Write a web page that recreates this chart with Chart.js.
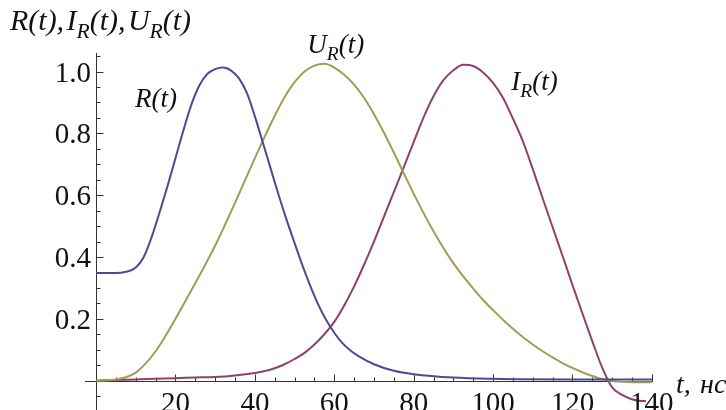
<!DOCTYPE html>
<html>
<head>
<meta charset="utf-8">
<script src="https://cdn.jsdelivr.net/npm/chart.js@4/dist/chart.umd.min.js"></script>
<style>
    html, body { margin: 0; padding: 0; background: #fff; }
    #wrap { width: 726px; height: 410px; position: relative; overflow: hidden; }
</style>
</head>
<body>
<div id="wrap"><canvas id="chart" width="726" height="410"></canvas></div>
<script>
// R(t) - blue
const rT = [0, 2.5, 5, 7.5, 10, 12, 14, 16, 18, 20, 22, 24, 26, 28, 30, 32, 34, 36, 38, 40, 42, 44, 46, 48, 50, 52, 54, 56, 58, 60, 62, 64, 66, 70, 75, 80, 90, 100, 120, 140];
const rValues = [0.348, 0.348, 0.348, 0.352, 0.366, 0.400, 0.465, 0.545, 0.630, 0.720, 0.810, 0.893, 0.955, 0.992, 1.008, 1.013, 1.003, 0.978, 0.930, 0.855, 0.770, 0.685, 0.600, 0.520, 0.445, 0.372, 0.305, 0.245, 0.195, 0.155, 0.122, 0.098, 0.080, 0.053, 0.032, 0.021, 0.010, 0.006, 0.004, 0.004];

// U_R(t) - olive
const uT = [0, 2.5, 5, 7.5, 10, 12.5, 15, 17.5, 20, 22.5, 25, 27.5, 30, 32.5, 35, 37.5, 40, 42.5, 45, 47.5, 50, 52.5, 55, 57.5, 60, 62.5, 65, 67.5, 70, 72.5, 75, 77.5, 80, 82.5, 85, 87.5, 90, 92.5, 95, 97.5, 100, 102.5, 105, 107.5, 110, 112.5, 115, 117.5, 120, 122.5, 125, 127.5, 130, 132.5, 135, 140];
const uValues = [0, 0.001, 0.004, 0.011, 0.026, 0.056, 0.095, 0.145, 0.200, 0.258, 0.316, 0.375, 0.437, 0.505, 0.575, 0.648, 0.720, 0.790, 0.857, 0.918, 0.966, 1.000, 1.019, 1.025, 1.013, 0.990, 0.958, 0.915, 0.862, 0.803, 0.738, 0.671, 0.605, 0.542, 0.483, 0.429, 0.380, 0.337, 0.298, 0.261, 0.228, 0.197, 0.168, 0.141, 0.117, 0.095, 0.075, 0.057, 0.041, 0.027, 0.015, 0.005, -0.001, -0.004, -0.005, -0.005];

// I_R(t) - magenta
const iT = [0, 5, 10, 15, 20, 25, 30, 35, 40, 42.5, 45, 47.5, 50, 52.5, 55, 57.5, 60, 62.5, 65, 67.5, 70, 72.5, 75, 77.5, 80, 82.5, 85, 87.5, 90, 92.5, 95, 97.5, 100, 102.5, 105, 107.5, 110, 112.5, 115, 117.5, 120, 122.5, 125, 127.5, 130, 132.5, 135, 137.5, 138.5];
const iValues = [0, 0.002, 0.004, 0.006, 0.008, 0.010, 0.012, 0.017, 0.025, 0.031, 0.040, 0.053, 0.070, 0.090, 0.117, 0.150, 0.190, 0.243, 0.305, 0.375, 0.450, 0.530, 0.610, 0.690, 0.772, 0.852, 0.920, 0.972, 1.004, 1.022, 1.018, 0.997, 0.963, 0.915, 0.848, 0.775, 0.685, 0.590, 0.497, 0.404, 0.310, 0.218, 0.128, 0.042, -0.022, -0.046, -0.060, -0.066, -0.066];

const xTickValues = [20, 40, 60, 80, 100, 120, 140];
const xTickLabels = ["20", "40", "60", "80", "100", "120", "140"];
const yTickValues = [0.2, 0.4, 0.6, 0.8, 1.0];
const yTickLabels = ["0.2", "0.4", "0.6", "0.8", "1.0"];

// text labels: [text, t, value]   ("_X" = subscript X)
const curveLabels = [
    ["R(t)", 9.8, 0.885],
    ["U_R(t)", 53.2, 1.06],
    ["I_R(t)", 104.6, 0.94]
];
const yAxisTitle = ["R(t),I_R(t),U_R(t)", -21.7, 1.134];
const xAxisTitle = ["t, нс", 146.1, -0.04];

const SERIF = '"Liberation Serif", "Times New Roman", serif';

const toPoints = (ts, vs) => ts.map((t, i) => ({ x: t, y: vs[i] }));

function drawRich(ctx, str, x, y, size) {
    let cx = x;
    let i = 0;
    while (i < str.length) {
        let sub = false;
        let ch = str[i];
        if (ch === "_") { sub = true; ch = str[i + 1]; i++; }
        const s = sub ? size * 0.72 : size;
        ctx.font = `italic ${s}px ${SERIF}`;
        ctx.fillText(ch, cx, y + (sub ? size * 0.25 : 0));
        cx += ctx.measureText(ch).width + (ch === "," ? size * 0.08 : 0);
        i++;
    }
}

const mathAxes = {
    id: "mathAxes",
    beforeDatasetsDraw(chart) {
        const { ctx, chartArea, scales: { x, y } } = chart;
        const x0 = Math.round(x.getPixelForValue(0)) + 0.5;
        const y0 = Math.round(y.getPixelForValue(0)) + 0.5;
        ctx.save();
        ctx.strokeStyle = "#333";
        ctx.lineWidth = 1;
        ctx.beginPath();
        ctx.moveTo(chartArea.left, y0);
        ctx.lineTo(chartArea.right, y0);
        ctx.moveTo(x0, chartArea.top);
        ctx.lineTo(x0, chartArea.bottom);
        // x ticks (pointing up)
        for (let t = 5; t <= 140; t += 5) {
            const px = Math.round(x.getPixelForValue(t)) + 0.5;
            const len = t % 20 === 0 ? 7 : 4;
            ctx.moveTo(px, y0);
            ctx.lineTo(px, y0 - len);
        }
        // y ticks (pointing right)
        for (let k = -1; k <= 21; k++) {
            if (k === 0) continue;
            const py = Math.round(y.getPixelForValue(k * 0.05)) + 0.5;
            const len = k % 4 === 0 ? 7 : 4;
            ctx.moveTo(x0, py);
            ctx.lineTo(x0 + len, py);
        }
        ctx.stroke();
        ctx.restore();
    },
    afterDraw(chart) {
        const { ctx, scales: { x, y } } = chart;
        const x0 = x.getPixelForValue(0);
        const y0 = y.getPixelForValue(0);
        ctx.save();
        ctx.fillStyle = "#111";
        ctx.font = `29px ${SERIF}`;
        ctx.textAlign = "right";
        ctx.textBaseline = "alphabetic";
        yTickValues.forEach((v, i) => {
            ctx.fillText(yTickLabels[i], x0 - 5, y.getPixelForValue(v) + 10);
        });
        ctx.textAlign = "center";
        xTickValues.forEach((t, i) => {
            ctx.fillText(xTickLabels[i], x.getPixelForValue(t), y0 + 31);
        });
        ctx.textAlign = "left";
        curveLabels.forEach(([s, t, v]) => {
            drawRich(ctx, s, x.getPixelForValue(t), y.getPixelForValue(v), 27);
        });
        drawRich(ctx, yAxisTitle[0], x.getPixelForValue(yAxisTitle[1]), y.getPixelForValue(yAxisTitle[2]), 30);
        drawRich(ctx, xAxisTitle[0], x.getPixelForValue(xAxisTitle[1]), y.getPixelForValue(xAxisTitle[2]), 28);
        ctx.restore();
    }
};

const lineStyle = {
    pointRadius: 0,
    borderWidth: 2,
    fill: false,
    cubicInterpolationMode: "monotone"
};

new Chart(document.getElementById("chart"), {
    type: "line",
    data: {
        datasets: [
            { label: "R(t)", data: toPoints(rT, rValues), borderColor: "#4b4b94", ...lineStyle },
            { label: "U_R(t)", data: toPoints(uT, uValues), borderColor: "#a39c58", ...lineStyle },
            { label: "I_R(t)", data: toPoints(iT, iValues), borderColor: "#8e416f", ...lineStyle }
        ]
    },
    options: {
        responsive: false,
        animation: false,
        devicePixelRatio: 1,
        layout: { padding: { left: 85, right: 73, top: 53, bottom: 0 } },
        plugins: { legend: { display: false }, tooltip: { enabled: false } },
        scales: {
            x: { type: "linear", min: -2.8, max: 140.3, display: false },
            y: { type: "linear", min: -0.095, max: 1.06, display: false }
        }
    },
    plugins: [mathAxes]
});
</script>
</body>
</html>
